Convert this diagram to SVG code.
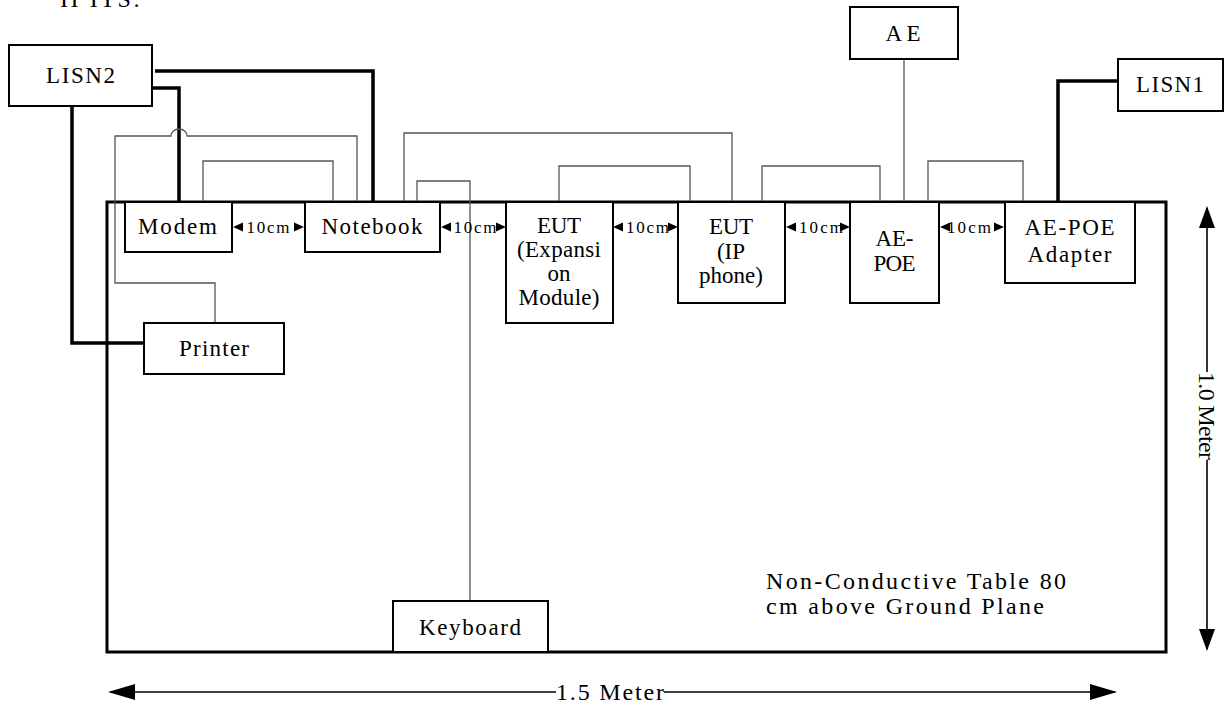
<svg xmlns="http://www.w3.org/2000/svg" width="1225" height="707" viewBox="0 0 1225 707">
<defs>
<style>
.bg{fill:#fff}
.box{fill:#fff;stroke:#000;stroke-width:2}
.table{fill:none;stroke:#000;stroke-width:3}
.thick{fill:none;stroke:#000;stroke-width:3.5;stroke-linejoin:miter}
.thin{fill:none;stroke:#555;stroke-width:1.3}
.lbl{font-family:"Liberation Serif","Times New Roman",serif;font-size:23px;fill:#000;text-anchor:middle}
.note{font-family:"Liberation Serif","Times New Roman",serif;font-size:24px;fill:#000}
.dimtxt{font-family:"Liberation Serif","Times New Roman",serif;font-size:17px;fill:#000;text-anchor:middle}
.dimline{fill:none;stroke:#000;stroke-width:1.6}
.tri{fill:#000}
</style>
<path id="tl" d="M0,0 L10,-4.5 L10,4.5 Z"/>
<path id="tr" d="M0,0 L-10,-4.5 L-10,4.5 Z"/>
<marker id="arrV" viewBox="0 -8 22 16" refX="20" refY="0" markerWidth="22" markerHeight="16" markerUnits="userSpaceOnUse" orient="auto-start-reverse">
<path d="M0,-8 L22,0 L0,8 Z" fill="#000"/>
</marker>
<marker id="arrH" viewBox="0 -8 27 16" refX="25" refY="0" markerWidth="27" markerHeight="16" markerUnits="userSpaceOnUse" orient="auto-start-reverse">
<path d="M0,-8 L27,0 L0,8 Z" fill="#000"/>
</marker>
</defs>
<rect class="bg" x="0" y="0" width="1225" height="707"/>
<text class="note" x="60" y="7" textLength="80">II ITS:</text>

<g id="table">
<rect class="table" x="107" y="202" width="1059" height="450"/>
</g>

<g id="connectors">
<path class="thick" d="M155,71 H373 V202"/>
<path class="thick" d="M152,88 H179 V202"/>
<path class="thick" d="M72,106 V343 H144"/>
<path class="thick" d="M1118,81 H1058 V202"/>
<path class="thin" d="M357,202 V136 H187 A8,7 0 0 0 171,136 H115 V283 H215 V323"/>
<path class="thin" d="M203,202 V161 H333 V202"/>
<path class="thin" d="M404,202 V133 H732 V202"/>
<path class="thin" d="M417,202 V181 H470 V601"/>
<path class="thin" d="M559,202 V166 H690 V202"/>
<path class="thin" d="M762,202 V166 H880 V202"/>
<path class="thin" d="M904,59 V202"/>
<path class="thin" d="M928,202 V161 H1023 V202"/>
</g>

<g id="lisn2"><rect class="box" x="9" y="45" width="143" height="61"/><text class="lbl" x="80.5" y="83" textLength="69">LISN2</text></g>
<g id="lisn1"><rect class="box" x="1118" y="59" width="105" height="52"/><text class="lbl" x="1170" y="92" textLength="68">LISN1</text></g>
<g id="ae"><rect class="box" x="850" y="7" width="108" height="52"/><text class="lbl" x="903" y="41" textLength="35">AE</text></g>
<g id="modem"><rect class="box" x="125" y="202" width="107" height="50"/><text class="lbl" x="177.5" y="234" textLength="79">Modem</text></g>
<g id="notebook"><rect class="box" x="305" y="202" width="135" height="50"/><text class="lbl" x="372" y="234" textLength="101">Notebook</text></g>
<g id="printer"><rect class="box" x="144" y="323" width="140" height="51"/><text class="lbl" x="214" y="356" textLength="70">Printer</text></g>
<g id="eut-expansion"><rect class="box" x="506" y="202" width="107" height="121"/>
<text class="lbl" x="559" y="233" textLength="44">EUT</text>
<text class="lbl" x="559" y="257" textLength="84">(Expansi</text>
<text class="lbl" x="559" y="281" textLength="23">on</text>
<text class="lbl" x="559" y="305" textLength="81">Module)</text></g>
<g id="eut-ipphone"><rect class="box" x="678" y="202" width="107" height="101"/>
<text class="lbl" x="731" y="234" textLength="44">EUT</text>
<text class="lbl" x="731" y="259" textLength="28">(IP</text>
<text class="lbl" x="731" y="283" textLength="64">phone)</text></g>
<g id="ae-poe"><rect class="box" x="850" y="202" width="89" height="101"/>
<text class="lbl" x="894.5" y="246" textLength="38">AE-</text>
<text class="lbl" x="894.5" y="271" textLength="42">POE</text></g>
<g id="ae-poe-adapter"><rect class="box" x="1005" y="202" width="130" height="81"/>
<text class="lbl" x="1069.5" y="235" textLength="90">AE-POE</text>
<text class="lbl" x="1069.5" y="262" textLength="84">Adapter</text></g>
<g id="keyboard"><rect class="box" x="393" y="601" width="155" height="51"/><text class="lbl" x="470" y="635" textLength="102">Keyboard</text></g>

<g id="spacing-marks">
<use href="#tl" class="tri" x="233" y="227"/><text class="dimtxt" x="268" y="233" textLength="43">10cm</text><use href="#tr" class="tri" x="304" y="227"/>
<use href="#tl" class="tri" x="441" y="227"/><text class="dimtxt" x="475" y="233" textLength="43">10cm</text><use href="#tr" class="tri" x="506" y="227"/>
<use href="#tl" class="tri" x="613" y="227"/><text class="dimtxt" x="647.5" y="233" textLength="43">10cm</text><use href="#tr" class="tri" x="678" y="227"/>
<use href="#tl" class="tri" x="786" y="227"/><text class="dimtxt" x="821" y="233" textLength="44">10cm</text><use href="#tr" class="tri" x="850" y="227"/>
<use href="#tl" class="tri" x="940" y="227"/><text class="dimtxt" x="969" y="233" textLength="44">10cm</text><use href="#tr" class="tri" x="1004" y="227"/>
</g>

<g id="note">
<text class="note" x="766" y="589" textLength="300">Non-Conductive Table 80</text>
<text class="note" x="766" y="614" textLength="278">cm above Ground Plane</text>
</g>

<g id="dimensions">
<path class="dimline" d="M1207,208 V372" marker-start="url(#arrV)"/>
<path class="dimline" d="M1207,460 V649" marker-end="url(#arrV)"/>
<text class="note" transform="translate(1198.5,416) rotate(90)" text-anchor="middle" textLength="88">1.0 Meter</text>
<path class="dimline" d="M110,692 H556" marker-start="url(#arrH)"/>
<path class="dimline" d="M664,692 H1115" marker-end="url(#arrH)"/>
<text class="note" x="610" y="700" text-anchor="middle" textLength="108">1.5 Meter</text>
</g>
</svg>
